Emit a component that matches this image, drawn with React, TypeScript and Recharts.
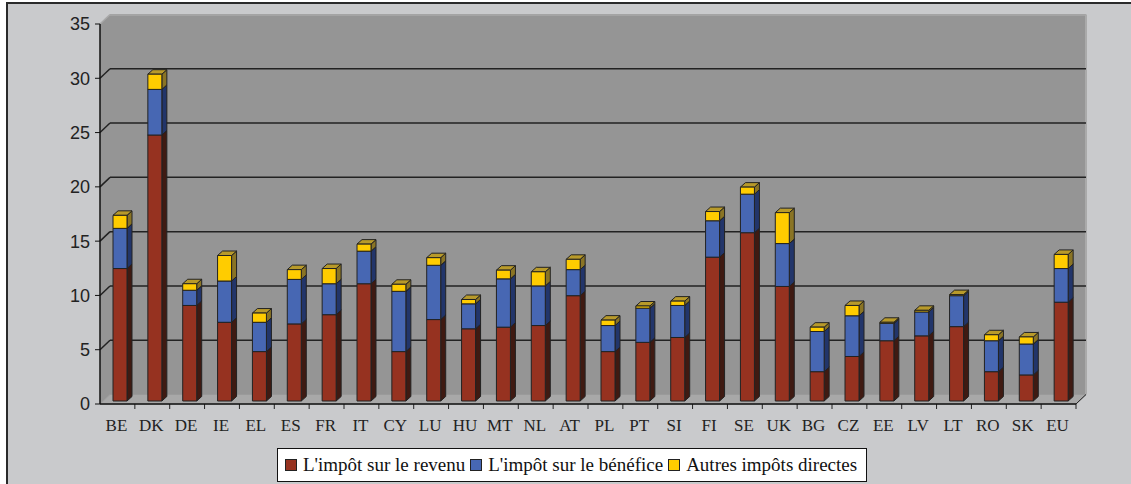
import React from 'react';
import { BarChart, Bar, XAxis, YAxis, ReferenceArea } from 'recharts';

const countries = ['BE', 'DK', 'DE', 'IE', 'EL', 'ES', 'FR', 'IT', 'CY', 'LU', 'HU', 'MT', 'NL', 'AT', 'PL', 'PT', 'SI', 'FI', 'SE', 'UK', 'BG', 'CZ', 'EE', 'LV', 'LT', 'RO', 'SK', 'EU'];
const revenu = [12.2, 24.5, 8.8, 7.25, 4.55, 7.1, 7.95, 10.8, 4.55, 7.5, 6.65, 6.8, 6.95, 9.7, 4.55, 5.4, 5.85, 13.25, 15.5, 10.55, 2.7, 4.1, 5.55, 6.0, 6.85, 2.7, 2.4, 9.1];
const benefice = [3.7, 4.2, 1.4, 3.8, 2.7, 4.1, 2.85, 3.0, 5.55, 5.0, 2.3, 4.45, 3.65, 2.4, 2.4, 3.15, 2.95, 3.35, 3.55, 3.95, 3.7, 3.75, 1.6, 2.2, 2.85, 2.85, 2.85, 3.1];
const autres = [1.2, 1.4, 0.6, 2.35, 0.85, 0.9, 1.4, 0.65, 0.65, 0.7, 0.4, 0.8, 1.3, 0.95, 0.5, 0.2, 0.4, 0.85, 0.65, 2.85, 0.4, 0.95, 0.1, 0.15, 0.1, 0.55, 0.65, 1.3];
const yTicks = [0, 5, 10, 15, 20, 25, 30, 35];
const seriesNames = ["L'impôt sur le revenu", "L'impôt sur le bénéfice", 'Autres impôts directes'];

const data = countries.map((c, i) => ({
  country: c,
  revenu: revenu[i],
  benefice: benefice[i],
  autres: autres[i],
}));

// front / side / top colours for each series
const palette = [
  { front: '#963220', side: '#3f1a12', top: '#7a3020' },
  { front: '#4767b3', side: '#22356a', top: '#3a5596' },
  { front: '#ffcc00', side: '#8a7424', top: '#b89a2a' },
];

const SERIF = '"Liberation Serif", "Times New Roman", Times, serif';

const DEPTH_X = 10;
const DEPTH_Y = 9.5;
const BAR_DX = 3;
const BAR_DY = -3;
const SIDE_X = 5;
const SIDE_Y = 4.5;

const makeBox = (colors: { front: string; side: string; top: string }) => (props: any) => {
  const { x, y, width, height } = props;
  if (width == null || height == null) return null;
  const x0 = x + BAR_DX;
  const y0 = y + BAR_DY;
  const x1 = x0 + width;
  const y1 = y0 + height;
  return (
    <g stroke="#222" strokeWidth={1} strokeLinejoin="round">
      <polygon points={`${x1},${y0} ${x1 + SIDE_X},${y0 - SIDE_Y} ${x1 + SIDE_X},${y1 - SIDE_Y} ${x1},${y1}`} fill={colors.side} />
      <polygon points={`${x0},${y0} ${x0 + SIDE_X},${y0 - SIDE_Y} ${x1 + SIDE_X},${y0 - SIDE_Y} ${x1},${y0}`} fill={colors.top} />
      <rect x={x0} y={y0} width={width} height={height} fill={colors.front} />
    </g>
  );
};

// walls, floor, gridlines and category ticks, drawn from the plot box
const Walls = (props: any) => {
  const { x, y, width, height } = props;
  const bottom = y + height;
  const yOf = (v: number) => bottom - (height * v) / 35;
  const n = countries.length;
  return (
    <g>
      <polygon points={`${x},${y} ${x + DEPTH_X},${y - DEPTH_Y} ${x + DEPTH_X},${bottom - DEPTH_Y} ${x},${bottom}`} fill="#959595" />
      <rect x={x + DEPTH_X} y={y - DEPTH_Y} width={width} height={height} fill="#959595" />
      <line x1={x} y1={y} x2={x + DEPTH_X} y2={y - DEPTH_Y} stroke="#a9a9a9" strokeWidth={1.5} />
      <line x1={x + DEPTH_X} y1={y - DEPTH_Y + 0.5} x2={x + width + DEPTH_X} y2={y - DEPTH_Y + 0.5} stroke="#a4a4a4" strokeWidth={2} />
      <line x1={x + width + DEPTH_X} y1={y - DEPTH_Y} x2={x + width + DEPTH_X} y2={bottom - DEPTH_Y} stroke="#aaaaaa" strokeWidth={2} />
      <polygon points={`${x},${bottom} ${x + DEPTH_X},${bottom - DEPTH_Y} ${x + width + DEPTH_X},${bottom - DEPTH_Y} ${x + width},${bottom}`} fill="#a8a8a8" stroke="#9a9a9a" strokeWidth={1} />
      {yTicks.filter((v) => v > 0 && v < 35).map((v) => (
        <g key={v} stroke="#222" strokeWidth={1.5}>
          <line x1={x} y1={yOf(v)} x2={x + DEPTH_X} y2={yOf(v) - DEPTH_Y} />
          <line x1={x + DEPTH_X} y1={yOf(v) - DEPTH_Y} x2={x + width + DEPTH_X} y2={yOf(v) - DEPTH_Y} />
        </g>
      ))}
      <line x1={x + width} y1={bottom} x2={x + width + DEPTH_X} y2={bottom - DEPTH_Y} stroke="#222" strokeWidth={1} />
      {countries.map((c, i) => (
        <line key={c} x1={x + (width * (i + 1)) / n} y1={bottom} x2={x + (width * (i + 1)) / n} y2={bottom + 5} stroke="#222" strokeWidth={1} />
      ))}
    </g>
  );
};

const CountryTick = (props: any) => {
  const { x, y, payload } = props;
  return (
    <text x={x - 1} y={y + 19} textAnchor="middle" fill="#222" fontSize={17} fontFamily={SERIF}>
      {payload.value}
    </text>
  );
};

export default function App() {
  return (
    <div style={{ position: 'fixed', left: 0, top: 0, width: 1131, height: 484, overflow: 'hidden', background: '#fff' }}>
      <div style={{ position: 'absolute', left: 6, top: 2, width: 1140, height: 500, background: '#c9cacc', borderTop: '2px solid #2a2a2a', borderLeft: '2px solid #2a2a2a' }} />
      <div style={{ position: 'absolute', left: 0, top: 0 }}>
        <BarChart width={1131} height={484} data={data} margin={{ top: 24, right: 55, left: 0, bottom: 50 }} barSize={14}>
          <ReferenceArea y1={0} y2={35} ifOverflow="visible" shape={<Walls />} />
          <XAxis dataKey="country" interval={0} tickLine={false} axisLine={{ stroke: '#111', strokeWidth: 1.5 }} height={30} tick={<CountryTick />} />
          <YAxis
            domain={[0, 35]}
            ticks={yTicks}
            width={100}
            tickSize={5}
            tickMargin={5}
            axisLine={{ stroke: '#111', strokeWidth: 1.5 }}
            tickLine={{ stroke: '#111' }}
            tick={{ fill: '#222', fontSize: 18, fontFamily: "'Liberation Sans', Arial, sans-serif" }}
          />
          <Bar dataKey="revenu" stackId="a" name={seriesNames[0]} fill={palette[0].front} shape={makeBox(palette[0])} isAnimationActive={false} />
          <Bar dataKey="benefice" stackId="a" name={seriesNames[1]} fill={palette[1].front} shape={makeBox(palette[1])} isAnimationActive={false} />
          <Bar dataKey="autres" stackId="a" name={seriesNames[2]} fill={palette[2].front} shape={makeBox(palette[2])} isAnimationActive={false} />
        </BarChart>
      </div>
      <div
        style={{
          position: 'absolute',
          left: 277,
          top: 448,
          width: 590,
          height: 34,
          boxSizing: 'border-box',
          background: '#fff',
          border: '1px solid #111',
          display: 'flex',
          alignItems: 'center',
          paddingLeft: 7,
          fontFamily: SERIF,
          fontSize: 19,
          color: '#111',
          whiteSpace: 'nowrap',
        }}
      >
        {seriesNames.map((name, i) => (
          <span key={name} style={{ display: 'flex', alignItems: 'center', marginRight: 5, fontFamily: SERIF }}>
            <span style={{ display: 'inline-block', width: 10, height: 10, background: palette[i].front, border: '1px solid #222', marginRight: 6 }} />
            {name}
          </span>
        ))}
      </div>
    </div>
  );
}
